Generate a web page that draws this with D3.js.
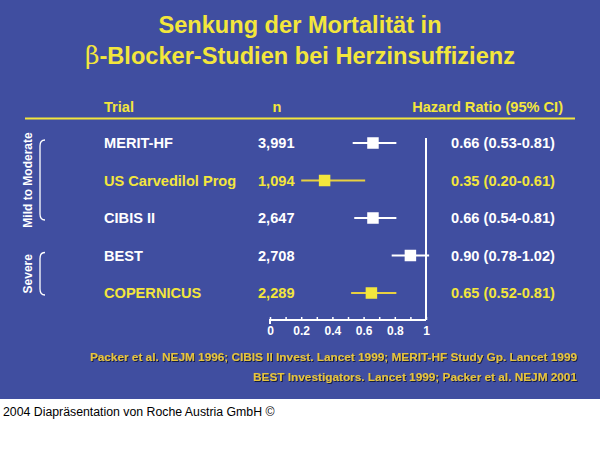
<!DOCTYPE html>
<html>
<head>
<meta charset="utf-8">
<script src="https://cdn.jsdelivr.net/npm/d3@7"></script>
<style>
  html, body { margin: 0; padding: 0; background: #ffffff; }
  svg { display: block; }
  text { font-family: "Liberation Sans", Arial, sans-serif; }
</style>
</head>
<body>
<svg id="chart" width="600" height="461"></svg>
<script>
// ---- data ----
const titleLines = ["Senkung der Mortalität in", "-Blocker-Studien bei Herzinsuffizienz"];
const headers = ["Trial", "n", "Hazard Ratio (95% CI)"];
const trials = ["MERIT-HF", "US Carvedilol Prog", "CIBIS II", "BEST", "COPERNICUS"];
const nValues = ["3,991", "1,094", "2,647", "2,708", "2,289"];
const hrValues = [0.66, 0.35, 0.66, 0.90, 0.65];
const ciLow = [0.53, 0.20, 0.54, 0.78, 0.52];
const ciHigh = [0.81, 0.61, 0.81, 1.02, 0.81];
const highlighted = [false, true, false, false, true];
const groupNames = ["Mild to Moderate", "Severe"];
const groupFirst = ["MERIT-HF", "BEST"];
const groupLast = ["CIBIS II", "COPERNICUS"];
const tickLabels = [0, 0.2, 0.4, 0.6, 0.8, 1];
const minorTicks = [0, 0.1, 0.2, 0.3, 0.4, 0.5, 0.6, 0.7, 0.8, 0.9, 1];
const references = [
  "Packer et al. NEJM 1996; CIBIS II Invest. Lancet 1999; MERIT-HF Study Gp. Lancet 1999",
  "BEST Investigators. Lancet 1999; Packer et al. NEJM 2001"
];
const footer = "2004 Diapräsentation von Roche Austria GmbH ©";

// ---- style ----
const BLUE = "#404ea0";
const YELLOW = "#f3e63c";
const WHITE = "#ffffff";
const GOLD = "#e6c43e";
const FONT = '"Liberation Sans", Arial, sans-serif';
const ROWFS = 14.6;

const svg = d3.select("#chart");

const defs = svg.append("defs");
const sh = defs.append("filter").attr("id", "shadow").attr("x", "-5%").attr("y", "-30%").attr("width", "110%").attr("height", "160%");
sh.append("feDropShadow").attr("dx", 1).attr("dy", 1).attr("stdDeviation", 0.4).attr("flood-color", "#10163a").attr("flood-opacity", 0.9);

// background panel
svg.append("rect").attr("x", 0).attr("y", 0).attr("width", 600).attr("height", 399).attr("fill", BLUE);

// title
const title = svg.append("g").attr("font-weight", "bold").attr("font-size", 23.6).attr("fill", YELLOW).attr("text-anchor", "middle");
title.append("text").attr("x", 300).attr("y", 33).text(titleLines[0]);
const t2 = title.append("text").attr("x", 300).attr("y", 64);
t2.append("tspan").attr("font-weight", "normal").attr("font-family", '"DejaVu Serif", "Liberation Serif", serif').attr("font-size", 25).text("β");
t2.append("tspan").text(titleLines[1]);

// scales
const x = d3.scaleLinear().domain([0, 1]).range([270, 426]);
const y = d3.scalePoint().domain(trials).range([143, 293]);

// header
const colTrial = 104, colN = 258, colHR = 503;
const hdr = svg.append("g").attr("font-weight", "bold").attr("font-size", ROWFS).attr("fill", YELLOW);
hdr.append("text").attr("x", colTrial).attr("y", 112).text(headers[0]);
hdr.append("text").attr("x", 277).attr("y", 112).attr("text-anchor", "middle").text(headers[1]);
hdr.append("text").attr("x", 563).attr("y", 112).attr("text-anchor", "end").text(headers[2]);
svg.append("line").attr("x1", 25).attr("x2", 575).attr("y1", 118.5).attr("y2", 118.5)
  .attr("stroke", YELLOW).attr("stroke-width", 2);

// rows
const rows = trials.map((t, i) => ({ trial: t, n: nValues[i], hr: hrValues[i], lo: ciLow[i], hi: ciHigh[i], hl: highlighted[i] }));
const fmt = d3.format(".2f");
const rowG = svg.append("g").selectAll("g").data(rows).join("g");
rowG.append("text").attr("x", colTrial).attr("y", d => y(d.trial) + 5)
  .attr("font-weight", "bold").attr("font-size", ROWFS).attr("fill", d => d.hl ? YELLOW : WHITE).text(d => d.trial);
rowG.append("text").attr("x", colN).attr("y", d => y(d.trial) + 5)
  .attr("font-weight", "bold").attr("font-size", ROWFS).attr("fill", d => d.hl ? YELLOW : WHITE).text(d => d.n);
rowG.append("text").attr("x", colHR).attr("y", d => y(d.trial) + 5).attr("text-anchor", "middle")
  .attr("font-weight", "bold").attr("font-size", ROWFS).attr("fill", d => d.hl ? YELLOW : WHITE)
  .text(d => `${fmt(d.hr)} (${fmt(d.lo)}-${fmt(d.hi)})`);

// reference line at HR = 1
const plot = svg.append("g");
plot.append("line").attr("x1", x(1)).attr("x2", x(1)).attr("y1", 138).attr("y2", 320)
  .attr("stroke", WHITE).attr("stroke-width", 2);

// CI whiskers and boxes
const fp = plot.selectAll("g.fp").data(rows).join("g").attr("class", "fp");
fp.append("line").attr("x1", d => x(d.lo)).attr("x2", d => x(d.hi))
  .attr("y1", d => y(d.trial)).attr("y2", d => y(d.trial))
  .attr("stroke", d => d.hl ? "#e8d040" : WHITE).attr("stroke-width", 2);
const box = 11.5;
fp.append("rect").attr("x", d => x(d.hr) - box / 2).attr("y", d => y(d.trial) - box / 2)
  .attr("width", box).attr("height", box).attr("fill", d => d.hl ? YELLOW : WHITE);

// axis
const axisY = 320;
const minorAxis = d3.axisTop(x).tickValues(minorTicks).tickSize(3).tickFormat("");
const gMinor = svg.append("g").attr("transform", `translate(0,${axisY})`).call(minorAxis);
gMinor.select(".domain").attr("stroke", WHITE).attr("stroke-width", 2).attr("d", `M${x(0)},4V0H${x(1)}`);
gMinor.selectAll(".tick line").attr("stroke", WHITE).attr("stroke-width", 1.5);

const labelAxis = d3.axisBottom(x).tickValues(tickLabels).tickSize(0).tickPadding(6).tickFormat(d => String(d));
const gLab = svg.append("g").attr("transform", `translate(0,${axisY})`).call(labelAxis);
gLab.select(".domain").remove();
gLab.selectAll("text").attr("fill", WHITE).attr("font-family", FONT).attr("font-weight", "bold").attr("font-size", 12);

// groups (brackets + rotated labels)
const groups = groupNames.map((g, i) => ({ name: g, y0: y(groupFirst[i]) - 3, y1: y(groupLast[i]) + 2 }));
const gg = svg.append("g").selectAll("g").data(groups).join("g");
gg.append("path").attr("fill", "none").attr("stroke", WHITE).attr("stroke-width", 1.3)
  .attr("d", d => `M45,${d.y0} Q40,${d.y0} 40,${d.y0 + 6} L40,${d.y1 - 6} Q40,${d.y1} 45,${d.y1}`);
gg.append("text").attr("transform", d => `translate(32,${(d.y0 + d.y1) / 2}) rotate(-90)`)
  .attr("text-anchor", "middle").attr("font-weight", "bold").attr("font-size", 12).attr("fill", WHITE)
  .text(d => d.name);

// references
const refG = svg.append("g").attr("font-weight", "bold").attr("font-size", 11.8).attr("fill", GOLD)
  .attr("text-anchor", "end").attr("filter", "url(#shadow)");
refG.selectAll("text").data(references).join("text")
  .attr("x", 577).attr("y", (d, i) => 361 + i * 20).text(d => d);

// footer
svg.append("text").attr("x", 3).attr("y", 416).attr("font-size", 12.3).attr("fill", "#000").text(footer);
</script>
</body>
</html>
